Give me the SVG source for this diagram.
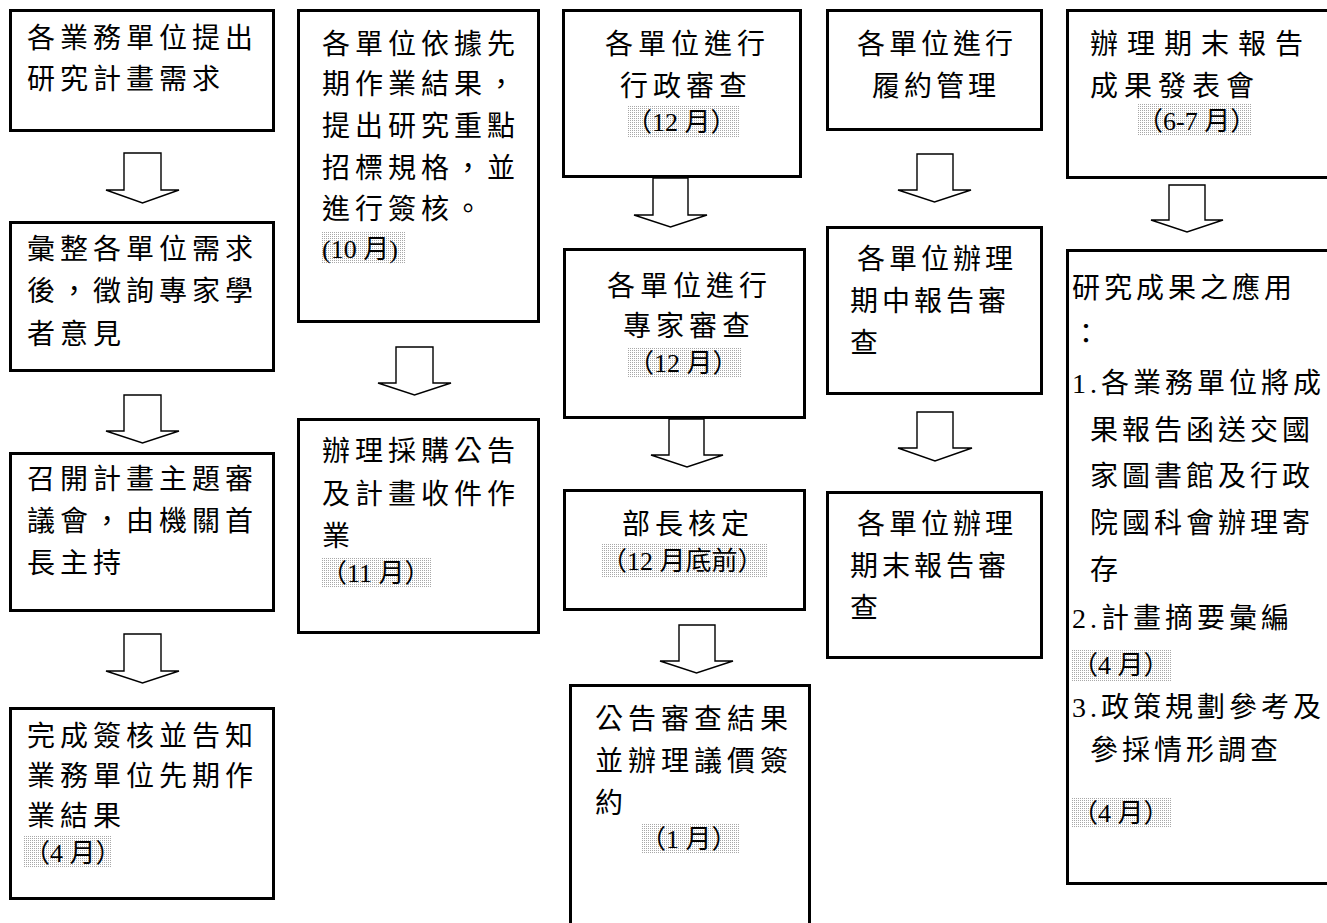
<svg xmlns="http://www.w3.org/2000/svg" width="1327" height="923" viewBox="0 0 1327 923">
<defs>
<pattern id="dots" width="2" height="2" patternUnits="userSpaceOnUse">
<rect width="2" height="2" fill="#ffffff"/>
<rect width="1" height="1" fill="#a8a8a8"/>
</pattern>
<style>
.box{fill:#fff;stroke:#000;stroke-width:3}
.arr{fill:#fff;stroke:#000;stroke-width:1.4;stroke-linejoin:miter}
.t{font-family:"Liberation Serif","Noto Sans CJK TC",serif;font-size:28px;letter-spacing:5px;fill:#000}
.t4{font-family:"Liberation Serif","Noto Sans CJK TC",serif;font-size:28px;letter-spacing:4px;fill:#000}
.m{font-family:"Liberation Serif","Noto Sans CJK TC",serif;font-size:26px;letter-spacing:0;fill:#000}
.sh{fill:url(#dots)}
</style>
</defs>
<rect width="1327" height="923" fill="#fff"/>

<g id="connectors">
<polygon class="arr" points="124,153 161,153 161,190 179,190 142.5,203 106,190 124,190"/>
<polygon class="arr" points="124,395 161,395 161,431 179,431 142.5,443 106,431 124,431"/>
<polygon class="arr" points="124,634 161,634 161,671 179,671 142.5,683 106,671 124,671"/>
<polygon class="arr" points="396,347 433,347 433,383 451,383 414.5,395 378,383 396,383"/>
<polygon class="arr" points="653,178 688,178 688,215 707,215 670.5,227 634,215 653,215"/>
<polygon class="arr" points="669,419 704,419 704,455 723,455 687,467 651,455 669,455"/>
<polygon class="arr" points="679,625 715,625 715,661 733,661 696.5,673 660,661 679,661"/>
<polygon class="arr" points="917,154 953,154 953,190 971,190 934.5,202 898,190 917,190"/>
<polygon class="arr" points="917,412 953,412 953,448 972,448 935,461 898,448 917,448"/>
<polygon class="arr" points="1169,185 1205,185 1205,220 1223,220 1187,232 1151,220 1169,220"/>
</g>

<g id="n1">
<rect class="box" x="10.5" y="10.5" width="263" height="120"/>
<text class="t" x="27" y="48">各業務單位提出</text>
<text class="t" x="27" y="89">研究計畫需求</text>
</g>

<g id="n2">
<rect class="box" x="10.5" y="222.5" width="263" height="148"/>
<text class="t" x="27" y="259">彙整各單位需求</text>
<text class="t" x="27" y="301">後，徵詢專家學</text>
<text class="t" x="27" y="344">者意見</text>
</g>

<g id="n3">
<rect class="box" x="10.5" y="453.5" width="263" height="157"/>
<text class="t" x="27" y="489">召開計畫主題審</text>
<text class="t" x="27" y="531">議會，由機關首</text>
<text class="t" x="27" y="573">長主持</text>
</g>

<g id="n4">
<rect class="box" x="10.5" y="708.5" width="263" height="190"/>
<text class="t" x="27" y="746">完成簽核並告知</text>
<text class="t" x="27" y="786">業務單位先期作</text>
<text class="t" x="27" y="826">業結果</text>
<rect class="sh" x="24" y="835" width="88" height="33"/>
<text class="m" x="24" y="862">（4 月）</text>
</g>

<g id="n5">
<rect class="box" x="298.5" y="10.5" width="240" height="311"/>
<text class="t" x="322" y="54">各單位依據先</text>
<text class="t" x="322" y="94">期作業結果，</text>
<text class="t" x="322" y="136">提出研究重點</text>
<text class="t" x="322" y="178">招標規格，並</text>
<text class="t" x="322" y="219">進行簽核。</text>
<rect class="sh" x="321" y="232" width="85" height="32"/>
<text class="m" x="322" y="258">(10 月)</text>
</g>

<g id="n6">
<rect class="box" x="298.5" y="419.5" width="240" height="213"/>
<text class="t" x="322" y="461">辦理採購公告</text>
<text class="t" x="322" y="504">及計畫收件作</text>
<text class="t" x="322" y="546">業</text>
<rect class="sh" x="321" y="557" width="111" height="30"/>
<text class="m" x="321" y="582">（11 月）</text>
</g>

<g id="n7">
<rect class="box" x="563.5" y="10.5" width="237" height="166"/>
<text class="t" x="605" y="54">各單位進行</text>
<text class="t" x="620" y="96">行政審查</text>
<rect class="sh" x="627" y="105" width="112" height="32"/>
<text class="m" x="626" y="131">（12 月）</text>
</g>

<g id="n8">
<rect class="box" x="564.5" y="249.5" width="240" height="168"/>
<text class="t" x="607" y="296">各單位進行</text>
<text class="t" x="623" y="336">專家審查</text>
<rect class="sh" x="628" y="347" width="114" height="30"/>
<text class="m" x="628" y="372">（12 月）</text>
</g>

<g id="n9">
<rect class="box" x="564.5" y="490.5" width="240" height="119"/>
<text class="t" x="622" y="534">部長核定</text>
<rect class="sh" x="602" y="543" width="166" height="34"/>
<text class="m" x="601" y="570">（12 月底前）</text>
</g>

<g id="n10">
<rect class="box" x="570.5" y="685.5" width="239" height="260"/>
<text class="t" x="595" y="729">公告審查結果</text>
<text class="t" x="595" y="771">並辦理議價簽</text>
<text class="t" x="595" y="813">約</text>
<rect class="sh" x="642" y="823" width="97" height="30"/>
<text class="m" x="640" y="848">（1 月）</text>
</g>

<g id="n11">
<rect class="box" x="827.5" y="10.5" width="214" height="119"/>
<text class="t4" x="857" y="54">各單位進行</text>
<text class="t4" x="872" y="96">履約管理</text>
</g>

<g id="n12">
<rect class="box" x="827.5" y="227.5" width="214" height="166"/>
<text class="t4" x="857" y="269">各單位辦理</text>
<text class="t4" x="850" y="311">期中報告審</text>
<text class="t4" x="850" y="353">查</text>
</g>

<g id="n13">
<rect class="box" x="827.5" y="492.5" width="214" height="165"/>
<text class="t4" x="857" y="534">各單位辦理</text>
<text class="t4" x="850" y="576">期末報告審</text>
<text class="t4" x="850" y="618">查</text>
</g>

<g id="n14">
<rect class="box" x="1067.5" y="10.5" width="280" height="167"/>
<text class="t4" x="1090" y="54" style="letter-spacing:9px">辦理期末報告</text>
<text class="t4" x="1090" y="96" style="letter-spacing:6px">成果發表會</text>
<rect class="sh" x="1137" y="104" width="114" height="32"/>
<text class="m" x="1137" y="130">（6-7 月）</text>
</g>

<g id="n15">
<rect class="box" x="1067.5" y="250.5" width="280" height="633"/>
<text class="t4" x="1072" y="298">研究成果之應用</text>
<text class="t4" x="1072" y="344">：</text>
<text class="t4" x="1072" y="393">1.各業務單位將成</text>
<text class="t4" x="1090" y="440">果報告函送交國</text>
<text class="t4" x="1090" y="486">家圖書館及行政</text>
<text class="t4" x="1090" y="533">院國科會辦理寄</text>
<text class="t4" x="1090" y="580">存</text>
<text class="t4" x="1072" y="628">2.計畫摘要彙編</text>
<rect class="sh" x="1072" y="649" width="100" height="32"/>
<text class="m" x="1072" y="674">（4 月）</text>
<text class="t4" x="1072" y="717">3.政策規劃參考及</text>
<text class="t4" x="1090" y="760">參採情形調查</text>
<rect class="sh" x="1072" y="797" width="100" height="31"/>
<text class="m" x="1072" y="822">（4 月）</text>
</g>
</svg>
